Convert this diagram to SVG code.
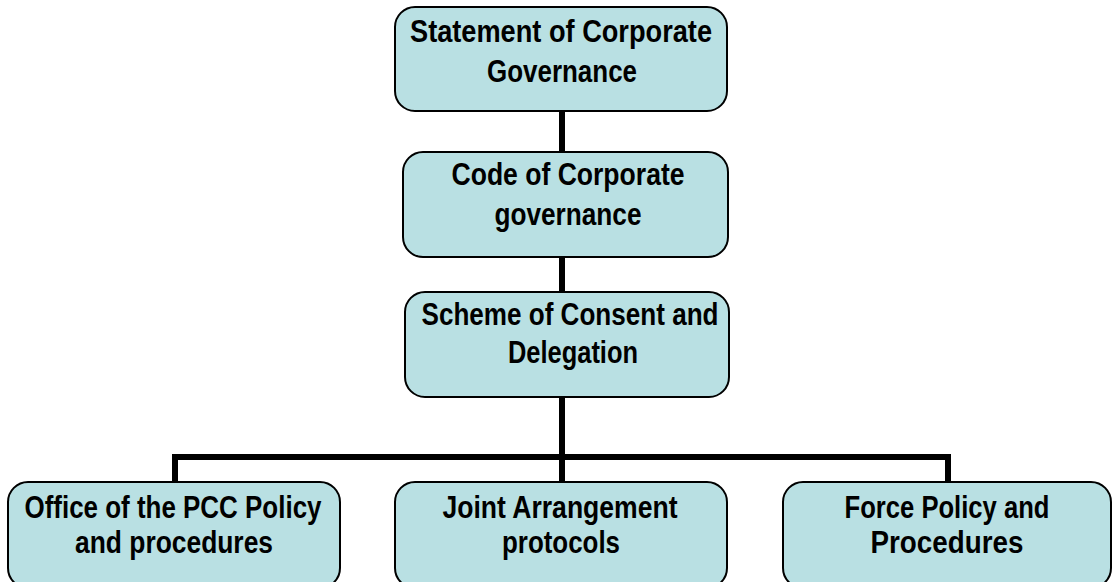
<svg xmlns="http://www.w3.org/2000/svg" width="1112" height="582" viewBox="0 0 1112 582">
  <style>
    .box { fill: #b9e0e3; stroke: #000; stroke-width: 2; }
    .lbl { font-family: "Liberation Sans", Arial, sans-serif; font-weight: bold; font-size: 31px; fill: #000; text-anchor: middle; }
    .wire { fill: none; stroke: #000; stroke-width: 6; }
  </style>
  <rect width="1112" height="582" fill="#fff"/>

  <!-- connectors -->
  <g id="connectors">
    <line class="wire" x1="562" y1="111" x2="562" y2="152"/>
    <line class="wire" x1="562" y1="257" x2="562" y2="292"/>
    <line class="wire" x1="562" y1="397" x2="562" y2="482"/>
    <polyline class="wire" points="175,482 175,457 948,457 948,482"/>
  </g>

  <!-- condensed bold labels: widths pinned with textLength -->
  <g id="statement">
    <rect class="box" x="395" y="7" width="332" height="104" rx="20"/>
    <text class="lbl" x="561" y="42" textLength="302" lengthAdjust="spacingAndGlyphs">Statement of Corporate</text>
    <text class="lbl" x="562" y="82" textLength="150" lengthAdjust="spacingAndGlyphs">Governance</text>
  </g>

  <g id="code">
    <rect class="box" x="403" y="152" width="325" height="105" rx="20"/>
    <text class="lbl" x="568" y="185" textLength="233" lengthAdjust="spacingAndGlyphs">Code of Corporate</text>
    <text class="lbl" x="568" y="225" textLength="147" lengthAdjust="spacingAndGlyphs">governance</text>
  </g>

  <g id="scheme">
    <rect class="box" x="405" y="292" width="324" height="105" rx="20"/>
    <text class="lbl" x="570" y="325" textLength="297" lengthAdjust="spacingAndGlyphs">Scheme of Consent and</text>
    <text class="lbl" x="573" y="363" textLength="130" lengthAdjust="spacingAndGlyphs">Delegation</text>
  </g>

  <g id="office">
    <rect class="box" x="8" y="482" width="332" height="106" rx="20"/>
    <text class="lbl" x="173" y="518" textLength="297" lengthAdjust="spacingAndGlyphs">Office of the PCC Policy</text>
    <text class="lbl" x="174" y="553" textLength="198" lengthAdjust="spacingAndGlyphs">and procedures</text>
  </g>

  <g id="joint">
    <rect class="box" x="395" y="482" width="332" height="106" rx="20"/>
    <text class="lbl" x="560" y="518" textLength="235" lengthAdjust="spacingAndGlyphs">Joint Arrangement</text>
    <text class="lbl" x="561" y="553" textLength="118" lengthAdjust="spacingAndGlyphs">protocols</text>
  </g>

  <g id="force">
    <rect class="box" x="783" y="482" width="328" height="106" rx="20"/>
    <text class="lbl" x="947" y="518" textLength="205" lengthAdjust="spacingAndGlyphs">Force Policy and</text>
    <text class="lbl" x="947" y="553" textLength="153" lengthAdjust="spacingAndGlyphs">Procedures</text>
  </g>
</svg>
